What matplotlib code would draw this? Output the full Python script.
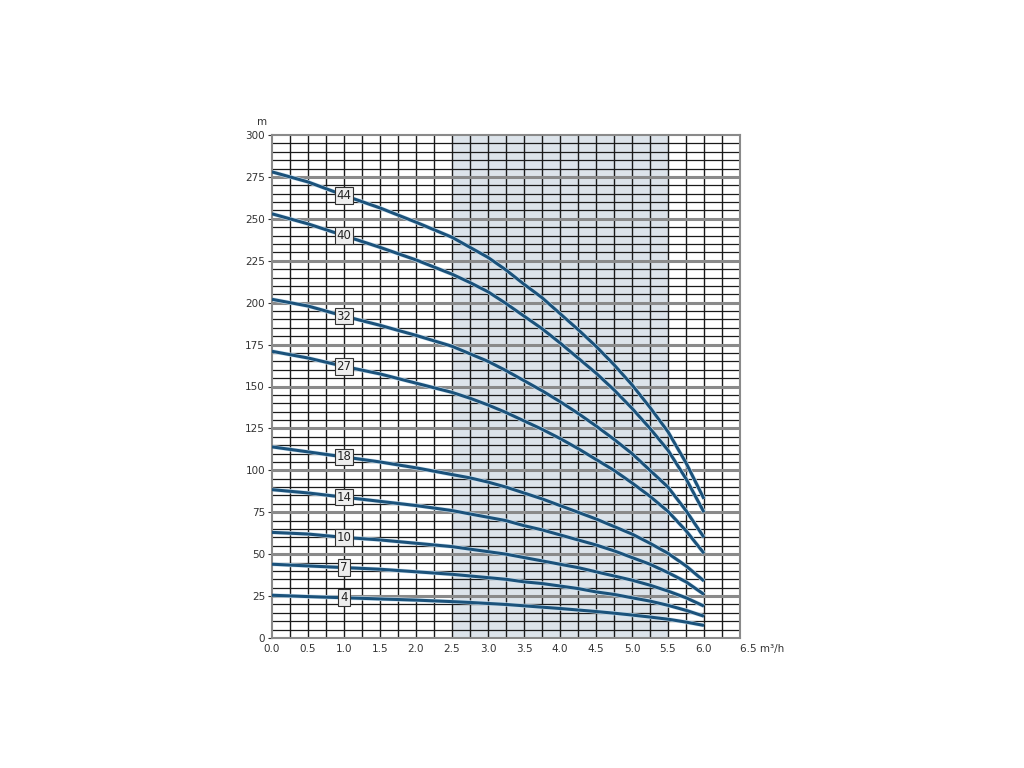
import numpy as np
import matplotlib
matplotlib.use("Agg")
import matplotlib.pyplot as plt

plt.rcParams['font.family'] = ['Liberation Sans Narrow', 'DejaVu Sans']

# flow (m3/h)
flow = [0.0, 0.5, 1.0, 1.5, 2.0, 2.5, 2.75, 3.0, 3.25, 3.5, 3.75, 4.0,
        4.25, 4.5, 4.75, 5.0, 5.25, 5.5, 5.75, 6.0]

# head (m) for each stage count
stages = [44, 40, 32, 27, 18, 14, 10, 7, 4]
head = {
    44: [278, 272, 264, 256.5, 248, 239, 233, 227, 219.5, 211, 203, 193.5,
         184, 174, 163, 151, 137.5, 123, 104.5, 83],
    40: [253, 247, 240, 233, 225.5, 217, 212, 206.5, 199.5, 192, 184.5, 176,
         167, 158, 148, 137, 125, 112, 95, 75],
    32: [202, 198, 192, 186.5, 180.5, 174, 169.5, 165, 159.5, 153.5, 147.5, 141,
         134, 126.5, 118.5, 110, 100, 90, 76, 60],
    27: [171, 167, 162, 157.5, 152, 146.5, 143, 139, 134.5, 129.5, 124.5, 119,
         113, 106.5, 100, 92.5, 84.5, 75.5, 64, 50.5],
    18: [114, 111, 108, 105, 101.5, 97.5, 95.5, 93, 90, 86.5, 83, 79,
         75, 71, 66.5, 62, 56.5, 50.5, 43, 34],
    14: [88.5, 86.5, 84, 81.5, 79, 76, 74, 72, 70, 67, 64.5, 61.5,
         58.5, 55.5, 52, 48, 44, 39, 33.5, 26],
    10: [63, 62, 60, 58.5, 56.5, 54.5, 53, 51.5, 50, 48, 46, 44,
         42, 39.5, 37, 34.5, 31.5, 28, 24, 19],
    7: [44, 43, 42, 41, 39.5, 38, 37, 36, 35, 33.5, 32.5, 31,
        29.5, 27.5, 26, 24, 22, 19.5, 16.5, 13],
    4: [25.5, 24.7, 24, 23.3, 22.6, 21.7, 21.2, 20.6, 20, 19.2, 18.4, 17.6,
        16.7, 15.8, 14.8, 13.7, 12.5, 11.2, 9.5, 7.5],
}

x_ticks = [0.0, 0.5, 1.0, 1.5, 2.0, 2.5, 3.0, 3.5, 4.0, 4.5, 5.0, 5.5, 6.0, 6.5]
x_labels = ["0.0", "0.5", "1.0", "1.5", "2.0", "2.5", "3.0", "3.5", "4.0", "4.5",
            "5.0", "5.5", "6.0", "6.5 m³/h"]
y_ticks = list(range(0, 301, 25))

band = (2.5, 5.5)
label_x = 1.0

fig = plt.figure(figsize=(10.24, 7.68), dpi=100)
ax = fig.add_axes([272 / 1024, 1 - 638 / 768, (740 - 272) / 1024, (638 - 135) / 768])
ax.set_xlim(0, 6.5)
ax.set_ylim(0, 300)

ax.axvspan(band[0], band[1], color="#dce3ea", zorder=0, lw=0)

# grid
for gx in np.arange(0.25, 6.5, 0.25):
    ax.axvline(gx, color="#1a1a1a", lw=1.0, zorder=1)
for gy in range(5, 300, 5):
    if gy % 25 == 0:
        ax.axhline(gy, color="#8a8a8a", lw=2.2, zorder=1)
    else:
        ax.axhline(gy, color="#1a1a1a", lw=0.9, zorder=1)

for s in stages:
    ax.plot(flow, head[s], color="#cfe4f2", lw=3.0, zorder=2,
            solid_capstyle="butt", solid_joinstyle="round")
    ax.plot(flow, head[s], color="#1b527b", lw=2.2, zorder=3,
            solid_capstyle="butt", solid_joinstyle="round")
    ly = np.interp(label_x, flow, head[s])
    ax.text(label_x, ly, str(s), ha="center", va="center", fontsize=8.5, color="#222222",
            zorder=5,
            bbox=dict(boxstyle="square,pad=0.15", fc="#eeeeee", ec="#333333", lw=0.8))

for sp in ax.spines.values():
    sp.set_color("#8a8a8a")
    sp.set_linewidth(1.5)

ax.set_xticks(x_ticks)
ax.set_xticklabels(x_labels)
ax.set_yticks(y_ticks)
ax.tick_params(axis="both", labelsize=7.5, colors="#333333", length=3, width=0.8)
ax.tick_params(axis="x", length=0, pad=4)
ax.tick_params(axis="y", pad=2)
ax.get_xticklabels()[-1].set_horizontalalignment("left")
ax.get_xticklabels()[-1].set_x(6.42)

fig.text(262 / 1024, 1 - 122 / 768, "m", fontsize=7.5, color="#333333", ha="center", va="center")

fig.savefig("out.png", dpi=100, facecolor="white")
